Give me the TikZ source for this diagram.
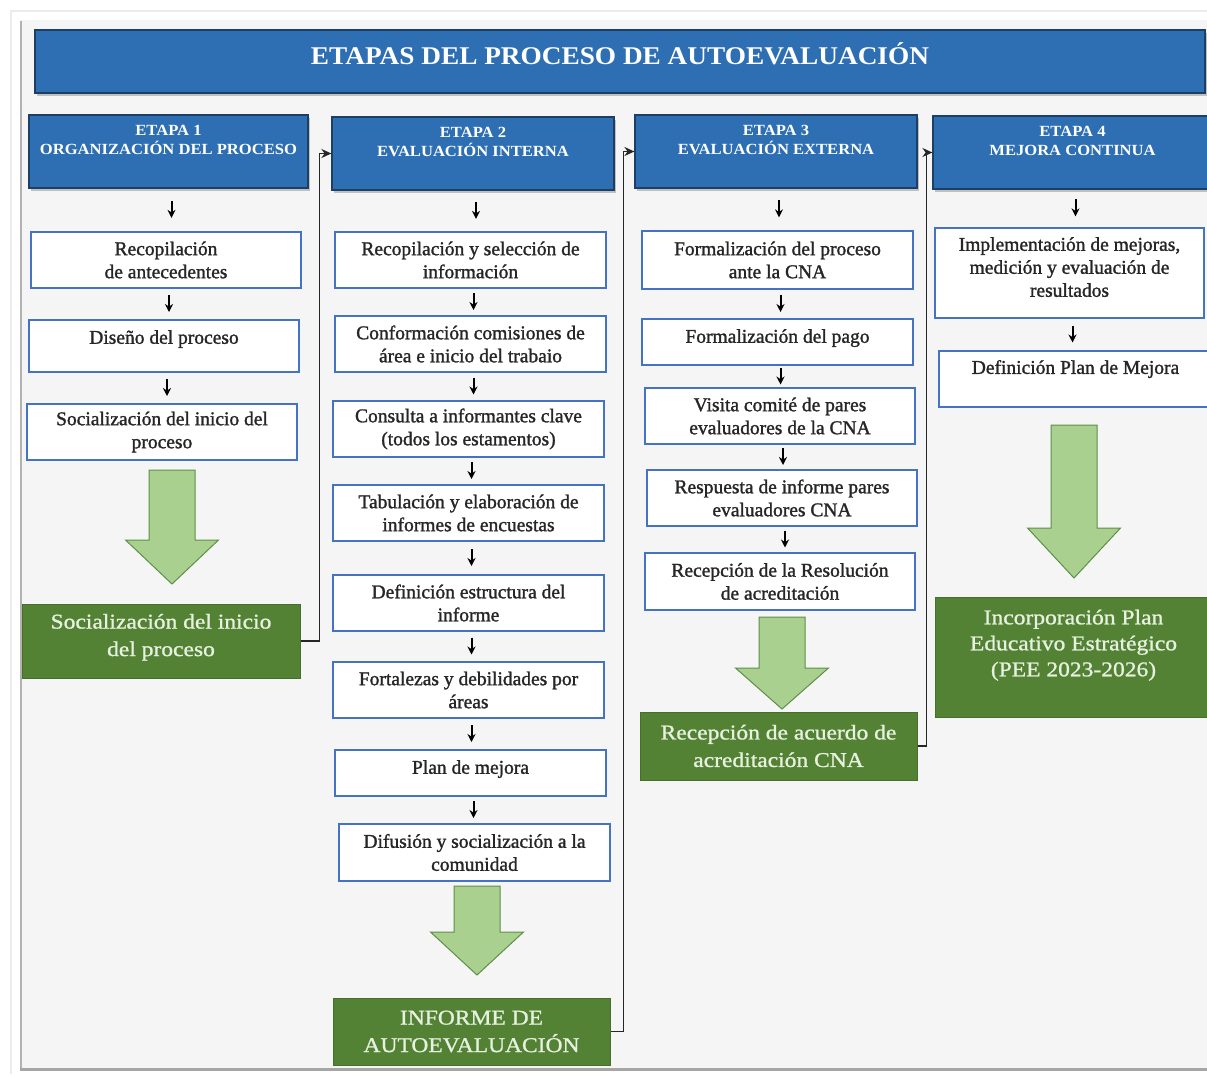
\documentclass[tikz,border=0pt]{standalone}
\usepackage{fontspec}
\setmainfont{Liberation Serif}
\newfontfamily\boxfont{Liberation Serif}[FakeBold=1.4]
\newfontfamily\titlefont{Liberation Serif}[FakeStretch=1.07]
\newfontfamily\greenfont{Liberation Serif}[FakeStretch=1.12, FakeBold=1.0]
\usetikzlibrary{calc,arrows.meta,shadows}

\definecolor{hdrblue}{HTML}{2E6FB3}
\definecolor{hdredge}{HTML}{1C3F63}
\definecolor{boxedge}{HTML}{4472C4}
\definecolor{txtgray}{HTML}{262626}
\definecolor{leaf}{HTML}{A9D08E}
\definecolor{leafedge}{HTML}{5E8F47}
\definecolor{forest}{HTML}{548235}
\definecolor{forestedge}{HTML}{456F2B}
\definecolor{paletxt}{HTML}{E7F1DF}
\definecolor{panel}{HTML}{F5F5F5}

% short downward arrow between two consecutive steps
\newcommand\flowstep[2]{%
  \draw[smallarr] let \p1=(#1.south), \p2=(#2.north) in
    (\x1+3pt,{(\y1+\y2)/2+9pt}) -- (\x1+3pt,{(\y1+\y2)/2-8pt});}

% wide green block arrow: centre x, shaft top, neck, tip
\newcommand\bigdown[4]{%
  \draw[bigarrow] (#1-23,#2) -- (#1+23,#2) -- (#1+23,#3) -- (#1+46.5,#3)
    -- (#1,#4) -- (#1-46.5,#3) -- (#1-23,#3) -- cycle;}

\begin{document}
\begin{tikzpicture}[x=1pt,y=-1pt,
  hdr/.style={draw=hdredge, line width=1.2pt, fill=hdrblue, inner sep=0pt,
    drop shadow={shadow xshift=2pt, shadow yshift=-3pt, opacity=.45}},
  hdrlbl/.style={anchor=north, inner sep=0pt, yshift=-11pt, text=white, align=center,
    font=\titlefont\bfseries\fontsize{15.5}{19}\selectfont},
  box/.style={draw=boxedge, line width=1.7pt, fill=white, text=txtgray, align=center,
    inner sep=0pt, font=\boxfont\fontsize{19.5}{23}\selectfont},
  green/.style={draw=forestedge, line width=1pt, fill=forest, text=paletxt, align=center,
    inner sep=0pt, font=\greenfont\fontsize{21}{27.5}\selectfont},
  smallarr/.style={line width=2pt, draw=black, -{Stealth[length=8pt,width=8pt]}},
  link/.style={line width=1.8pt, draw=black!85, -{Stealth[length=10pt,width=9pt]}},
  bigarrow/.style={fill=leaf, draw=leafedge, line width=1pt, line join=miter}
]
\useasboundingbox (0,0) rectangle (1207,1076);

% page and panel
\fill[white] (0,0) rectangle (1207,1076);
\draw[black!8, line width=2pt] (11,1074) -- (11,11) -- (1215,11);
\fill[panel] (20,20) rectangle (1215,1068);
\draw[black!30, line width=2.5pt] (21,21) -- (21,1068);
\draw[black!35, line width=3pt] (20,1069) -- (1215,1069);

% title bar
\node[hdr, minimum width=1170pt, minimum height=63pt, text=white,
  font=\titlefont\bfseries\fontsize{25.5}{30}\selectfont,
  text height=18pt, text depth=12pt] (title) at (620,61.5)
  {ETAPAS DEL PROCESO DE AUTOEVALUACIÓN};

% stage headers
\node[hdr, minimum width=279pt, minimum height=73pt,
  label={[hdrlbl]north:{ETAPA 1\\ORGANIZACIÓN DEL PROCESO}}] (e1) at (168.5,151.5) {};
\node[hdr, minimum width=282pt, minimum height=73pt,
  label={[hdrlbl]north:{ETAPA 2\\EVALUACIÓN INTERNA}}] (e2) at (473,153.5) {};
\node[hdr, minimum width=282pt, minimum height=73pt,
  label={[hdrlbl]north:{ETAPA 3\\EVALUACIÓN EXTERNA}}] (e3) at (776,151.5) {};
\node[hdr, minimum width=279pt, minimum height=73pt,
  label={[hdrlbl]north:{ETAPA 4\\MEJORA CONTINUA}}] (e4) at (1072.5,152.5) {};

% stage 1
\node[box, minimum width=270pt, minimum height=56pt] (a1) at (166,260) {Recopilación\\de antecedentes};
\node[box, minimum width=270pt, minimum height=52pt, text depth=18pt] (a2) at (164,346) {Diseño del proceso};
\node[box, minimum width=270pt, minimum height=56pt] (a3) at (162,432) {Socialización del inicio del\\proceso};
\bigdown{172}{470}{540}{584}
\node[green, minimum width=278pt, minimum height=74pt, text depth=12pt] (g1) at (161,641) {Socialización del inicio\\del proceso};

% stage 2
\node[box, minimum width=271pt, minimum height=56pt] (b1) at (470.5,260) {Recopilación y selección de\\información};
\node[box, minimum width=271pt, minimum height=56pt] (b2) at (470.5,344) {Conformación comisiones de\\área e inicio del trabaio};
\node[box, minimum width=271pt, minimum height=56pt] (b3) at (468.5,429) {Consulta a informantes clave\\(todos los estamentos)};
\node[box, minimum width=271pt, minimum height=56pt] (b4) at (468.5,513) {Tabulación y elaboración de\\informes de encuestas};
\node[box, minimum width=271pt, minimum height=56pt] (b5) at (468.5,603) {Definición estructura del\\informe};
\node[box, minimum width=271pt, minimum height=56pt] (b6) at (468.5,690) {Fortalezas y debilidades por\\áreas};
\node[box, minimum width=271pt, minimum height=46pt, text depth=12pt] (b7) at (470.5,773) {Plan de mejora};
\node[box, minimum width=271pt, minimum height=57pt] (b8) at (474.5,852.5) {Difusión y socialización a la\\comunidad};
\bigdown{477}{886}{932}{975}
\node[green, minimum width=277pt, minimum height=67pt] (g2) at (471.5,1031.5) {INFORME DE\\AUTOEVALUACIÓN};

% stage 3
\node[box, minimum width=271pt, minimum height=58pt] (c1) at (777.5,260) {Formalización del proceso\\ante la CNA};
\node[box, minimum width=271pt, minimum height=46pt, text depth=12pt] (c2) at (777.5,342) {Formalización del pago};
\node[box, minimum width=270pt, minimum height=56pt] (c3) at (780,416) {Visita comité de pares\\evaluadores de la CNA};
\node[box, minimum width=270pt, minimum height=56pt] (c4) at (782,498) {Respuesta de informe pares\\evaluadores CNA};
\node[box, minimum width=270pt, minimum height=57pt] (c5) at (780,581.5) {Recepción de la Resolución\\de acreditación};
\bigdown{782}{617}{668}{709}
\node[green, minimum width=277pt, minimum height=68pt] (g3) at (778.5,746) {Recepción de acuerdo de\\acreditación CNA};

% stage 4
\node[box, minimum width=269pt, minimum height=90pt, text depth=12pt] (d1) at (1069.5,273) {Implementación de mejoras,\\medición y evaluación de\\resultados};
\node[box, minimum width=273pt, minimum height=56pt, text depth=24pt] (d2) at (1075.5,379) {Definición Plan de Mejora};
\bigdown{1074}{425}{528}{578}
\node[green, minimum width=277pt, minimum height=120pt, text depth=28pt,
  font=\greenfont\fontsize{21}{26}\selectfont] (g4) at (1073.5,657)
  {Incorporación Plan\\Educativo Estratégico\\(PEE 2023-2026)};

% steps inside each stage
\flowstep{e1}{a1}\flowstep{a1}{a2}\flowstep{a2}{a3}
\flowstep{e2}{b1}\flowstep{b1}{b2}\flowstep{b2}{b3}\flowstep{b3}{b4}
\flowstep{b4}{b5}\flowstep{b5}{b6}\flowstep{b6}{b7}\flowstep{b7}{b8}
\flowstep{e3}{c1}\flowstep{c1}{c2}\flowstep{c2}{c3}\flowstep{c3}{c4}\flowstep{c4}{c5}
\flowstep{e4}{d1}\flowstep{d1}{d2}

% links from each outcome to the next stage
\draw[link] (g1.east) -- ++(19,0) |- (e2.west);
\draw[link] (g2.east) -- ++(13,0) |- (e3.west);
\draw[link] (g3.east) -- ++(9,0) |- (e4.west);
\end{tikzpicture}
\end{document}
